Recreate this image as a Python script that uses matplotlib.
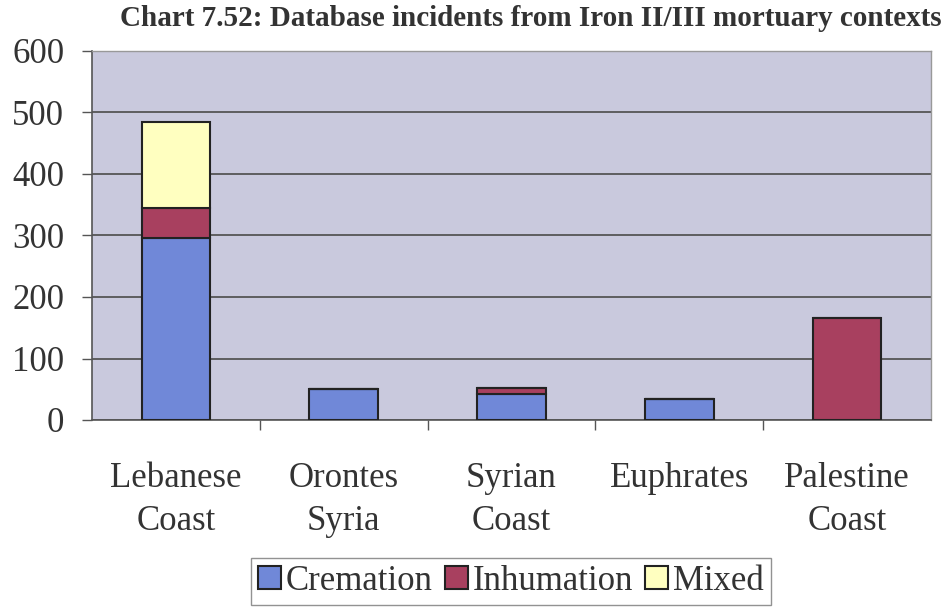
import matplotlib.pyplot as plt
import numpy as np

regions = ["Lebanese\nCoast", "Orontes\nSyria", "Syrian\nCoast", "Euphrates", "Palestine\nCoast"]
cremation = [296, 50, 42, 34, 0]
inhumation = [48, 0, 10, 0, 166]
mixed = [140, 0, 0, 0, 0]

colors = {"Cremation": "#7088d8", "Inhumation": "#a8405f", "Mixed": "#ffffc0"}

plt.rcParams["font.family"] = "Liberation Serif"

fig = plt.figure(figsize=(9.49, 6.07), dpi=100)
ax = fig.add_axes([92 / 949, 187 / 607, 839 / 949, 369 / 607])
ax.set_facecolor("#c9c9dd")

x = np.arange(len(regions))
width = 0.41
bottom = np.zeros(len(regions))
for name, vals in [("Cremation", cremation), ("Inhumation", inhumation), ("Mixed", mixed)]:
    vals = np.array(vals, dtype=float)
    ax.bar(x, vals, width, bottom=bottom, color=colors[name], edgecolor="#222222",
           linewidth=1.5, label=name, zorder=3)
    bottom += vals

ax.set_xlim(-0.5, len(regions) - 0.5)
ax.set_ylim(0, 600)
ax.set_yticks(range(0, 601, 100))
ax.yaxis.grid(True, color="#555555", linewidth=1.3, zorder=1)
ax.tick_params(axis="y", labelsize=25, length=7, width=1, color="#555555", pad=13,
               labelcolor="#333333")

ax.set_xticks(x)
ax.set_xticklabels(regions, linespacing=1.4)
ax.tick_params(axis="x", which="major", length=0, labelsize=25, pad=30, labelcolor="#333333")
ax.set_xticks(np.arange(0.5, len(regions) - 0.5), minor=True)
ax.tick_params(axis="x", which="minor", length=7, width=1, color="#555555")

for side in ["left", "bottom"]:
    ax.spines[side].set_color("#555555")
    ax.spines[side].set_linewidth(1.2)
for side in ["top", "right"]:
    ax.spines[side].set_color("#999999")
    ax.spines[side].set_linewidth(1.0)

fig.text(531 / 949, 1 - 19 / 607, "Chart 7.52: Database incidents from Iron II/III mortuary contexts",
         ha="center", va="center", fontsize=21, fontweight="bold", color="#333333")

leg = fig.legend(loc="upper center", bbox_to_anchor=(511 / 949, 1 - 558 / 607), ncol=3,
                 fontsize=25, frameon=True, fancybox=False, edgecolor="#777777",
                 handlelength=0.65, handleheight=0.65, handletextpad=0.15, columnspacing=0.35,
                 borderpad=0.2, borderaxespad=0, labelcolor="#333333")
leg.get_frame().set_linewidth(1.0)

fig.savefig("out.png", dpi=100)
